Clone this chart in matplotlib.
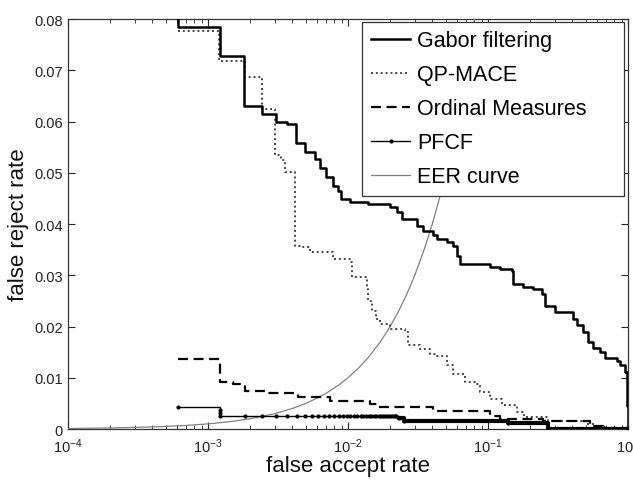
import numpy as np
import matplotlib
matplotlib.use("Agg")
import matplotlib.pyplot as plt
from matplotlib.ticker import LogLocator, FixedLocator, FixedFormatter, NullFormatter

plt.rcParams['font.family'] = ['Liberation Sans', 'DejaVu Sans']
plt.rcParams['mathtext.fontset'] = 'custom'
plt.rcParams['mathtext.rm'] = 'Liberation Sans'
plt.rcParams['mathtext.it'] = 'Liberation Sans:italic'
plt.rcParams['mathtext.bf'] = 'Liberation Sans:bold'

# Gabor filtering (FAR, FRR) step points
gabor_far = [6.1e-4, 6.1e-4, 1.22e-3, 1.81e-3, 2.42e-3, 3.06e-3, 3.65e-3, 4.26e-3,
             4.93e-3, 5.81e-3, 6.31e-3, 6.96e-3, 7.85e-3, 8.53e-3, 8.95e-3, 1.03e-2,
             1.40e-2, 2.00e-2, 2.23e-2, 2.42e-2, 3.10e-2, 3.45e-2, 4.07e-2, 4.30e-2,
             5.07e-2, 5.65e-2, 5.98e-2, 6.31e-2, 0.103, 0.122, 0.148, 0.152, 0.179,
             0.211, 0.242, 0.255, 0.301, 0.407, 0.430, 0.480, 0.520, 0.565, 0.631,
             0.685, 0.830, 0.877, 0.925, 0.952, 0.979, 0.990, 1.0]
gabor_frr = [0.085, 0.0784, 0.0728, 0.0631, 0.0615, 0.0600, 0.0595, 0.0558,
             0.0540, 0.0527, 0.0509, 0.0491, 0.0475, 0.0465, 0.0449, 0.0442,
             0.0439, 0.0433, 0.0423, 0.0410, 0.0397, 0.0387, 0.0379, 0.0371,
             0.0364, 0.0358, 0.0338, 0.0322, 0.0316, 0.0312, 0.0309, 0.0283, 0.0278,
             0.0273, 0.0263, 0.0241, 0.0228, 0.0215, 0.0202, 0.0189, 0.0169, 0.0159, 0.0150,
             0.0138, 0.0133, 0.0125, 0.0124, 0.0111, 0.0084, 0.0045, 0.0]

# QP-MACE
qp_far = [6.1e-4, 1.20e-3, 1.84e-3, 2.42e-3, 3.03e-3, 3.35e-3, 3.55e-3, 4.18e-3,
          4.79e-3, 5.35e-3, 7.85e-3, 1.03e-2, 1.06e-2, 1.36e-2, 1.40e-2, 1.48e-2,
          1.58e-2, 1.69e-2, 2.00e-2, 2.55e-2, 2.70e-2, 3.27e-2, 3.85e-2, 4.30e-2,
          5.07e-2, 5.65e-2, 6.85e-2, 8.09e-2, 8.77e-2, 0.103, 0.125, 0.160, 0.180,
          0.270, 0.510, 0.570, 0.700, 1.0]
qp_frr = [0.0776, 0.0719, 0.0686, 0.0624, 0.0535, 0.0525, 0.0501, 0.0358,
          0.0355, 0.0345, 0.0332, 0.0325, 0.0296, 0.0273, 0.0250, 0.0230,
          0.0215, 0.0205, 0.0195, 0.0189, 0.0163, 0.0156, 0.0146, 0.0143,
          0.0124, 0.0107, 0.0091, 0.0088, 0.0072, 0.0059, 0.0046, 0.0033, 0.0023,
          0.0016, 0.0010, 0.0004, 0.0002, 0.0]

# Ordinal Measures
om_far = [6.1e-4, 1.22e-3, 1.52e-3, 1.84e-3, 2.55e-3, 4.42e-3, 7.43e-3, 1.44e-2,
          1.60e-2, 4.07e-2, 0.103, 0.122, 0.247, 0.535, 0.660, 1.0]
om_frr = [0.0137, 0.0092, 0.0088, 0.0075, 0.0070, 0.0062, 0.0055, 0.0049,
          0.0043, 0.0036, 0.0026, 0.0020, 0.0016, 0.0006, 0.0002, 0.0]

# PFCF (sample points, markers)
pfcf_far = [6.1e-4, 1.22e-3, 1.22e-3, 1.22e-3, 1.84e-3, 2.45e-3, 3.06e-3, 3.68e-3,
            4.29e-3, 4.90e-3, 5.52e-3, 6.13e-3, 6.74e-3, 7.36e-3, 7.97e-3, 8.58e-3,
            9.20e-3, 9.81e-3, 1.04e-2, 1.10e-2, 1.16e-2, 1.23e-2, 1.29e-2, 1.35e-2,
            1.41e-2, 1.47e-2, 1.53e-2, 1.59e-2, 1.66e-2, 1.72e-2, 1.78e-2, 1.84e-2,
            1.90e-2, 1.96e-2, 2.02e-2, 2.08e-2, 2.15e-2, 2.21e-2, 2.30e-2, 2.50e-2,
            0.140, 0.270, 1.0]
pfcf_frr = [0.0042, 0.0038, 0.0032, 0.0026, 0.0026, 0.0026, 0.0026, 0.0026,
            0.0026, 0.0026, 0.0026, 0.0026, 0.0026, 0.0026, 0.0026, 0.0026,
            0.0026, 0.0026, 0.0026, 0.0026, 0.0026, 0.0026, 0.0026, 0.0026,
            0.0026, 0.0026, 0.0026, 0.0026, 0.0026, 0.0026, 0.0026, 0.0026,
            0.0026, 0.0026, 0.0026, 0.0026, 0.0026, 0.0026, 0.0021, 0.0016,
            0.0012, 0.0, 0.0]
pfcf_dense_from = 2.3e-2

# EER curve: FAR == FRR
eer_rate = [1e-4, 2e-4, 4e-4, 7e-4, 1e-3, 1.5e-3, 2e-3, 3e-3, 4e-3, 5e-3, 6e-3,
            7e-3, 8.5e-3, 1e-2, 1.2e-2, 1.4e-2, 1.7e-2, 2e-2, 2.3e-2, 2.6e-2, 3e-2,
            3.5e-2, 4e-2, 4.5e-2, 5e-2, 6e-2, 7e-2, 8e-2, 9e-2]

y_ticks = [0, 0.01, 0.02, 0.03, 0.04, 0.05, 0.06, 0.07, 0.08]
y_tick_labels = ['0', '0.01', '0.02', '0.03', '0.04', '0.05', '0.06', '0.07', '0.08']

fig = plt.figure(figsize=(6.33, 4.81), dpi=100)
ax = fig.add_axes([0.1074, 0.106, 0.8847, 0.8524])

ax.plot(gabor_far, gabor_frr, drawstyle='steps-post', color='black', lw=1.8,
        label='Gabor filtering', zorder=5)
ax.plot(qp_far, qp_frr, drawstyle='steps-post', color='#444444', lw=1.4,
        linestyle=(0, (1, 1.5)), label='QP-MACE', zorder=4)
ax.plot(om_far, om_frr, drawstyle='steps-post', color='black', lw=1.6,
        linestyle=(0, (4.5, 2.5)), label='Ordinal Measures', zorder=4)
ax.plot(pfcf_far, pfcf_frr, drawstyle='steps-post', color='black', lw=1.0,
        marker='.', markersize=4, label='PFCF', zorder=6)
dense = [i for i, f in enumerate(pfcf_far) if f >= pfcf_dense_from]
ax.plot([pfcf_far[i] for i in dense], [pfcf_frr[i] for i in dense],
        drawstyle='steps-post', color='black', lw=3.0, zorder=6)
ax.plot(eer_rate, eer_rate, color='#808080', lw=0.9, label='EER curve', zorder=3)

ax.set_xscale('log')
ax.set_xlim(1e-4, 1)
ax.set_ylim(0, 0.08)
ax.yaxis.set_major_locator(FixedLocator(y_ticks))
ax.yaxis.set_major_formatter(FixedFormatter(y_tick_labels))
ax.xaxis.set_major_locator(LogLocator(base=10, numticks=10))
ax.xaxis.set_minor_locator(LogLocator(base=10, subs=np.arange(2, 10), numticks=20))
ax.xaxis.set_minor_formatter(NullFormatter())

ax.tick_params(which='both', direction='in', top=True, right=True, colors='#222222')
ax.tick_params(axis='y', labelsize=10.5)
ax.tick_params(axis='x', labelsize=10.5, pad=5)
ax.tick_params(which='major', length=5, width=0.8)
ax.tick_params(which='minor', length=3, width=0.6)
for s in ax.spines.values():
    s.set_color('#333333')
    s.set_linewidth(0.9)

ax.set_xlabel('false accept rate', fontsize=16, color='#111111', labelpad=0)
ax.set_ylabel('false reject rate', fontsize=16, color='#111111', labelpad=4)

leg = ax.legend(loc='upper left', bbox_to_anchor=(0.525, 0.578, 0.468, 0.415),
                mode='expand', fontsize=15.5, fancybox=False, framealpha=1,
                edgecolor='#333333', handlelength=1.85, handletextpad=0.3,
                labelspacing=0.6, borderaxespad=0.0, borderpad=0.4)
leg.get_frame().set_linewidth(0.9)
leg.set_zorder(10)

fig.savefig('out.png', dpi=100)
